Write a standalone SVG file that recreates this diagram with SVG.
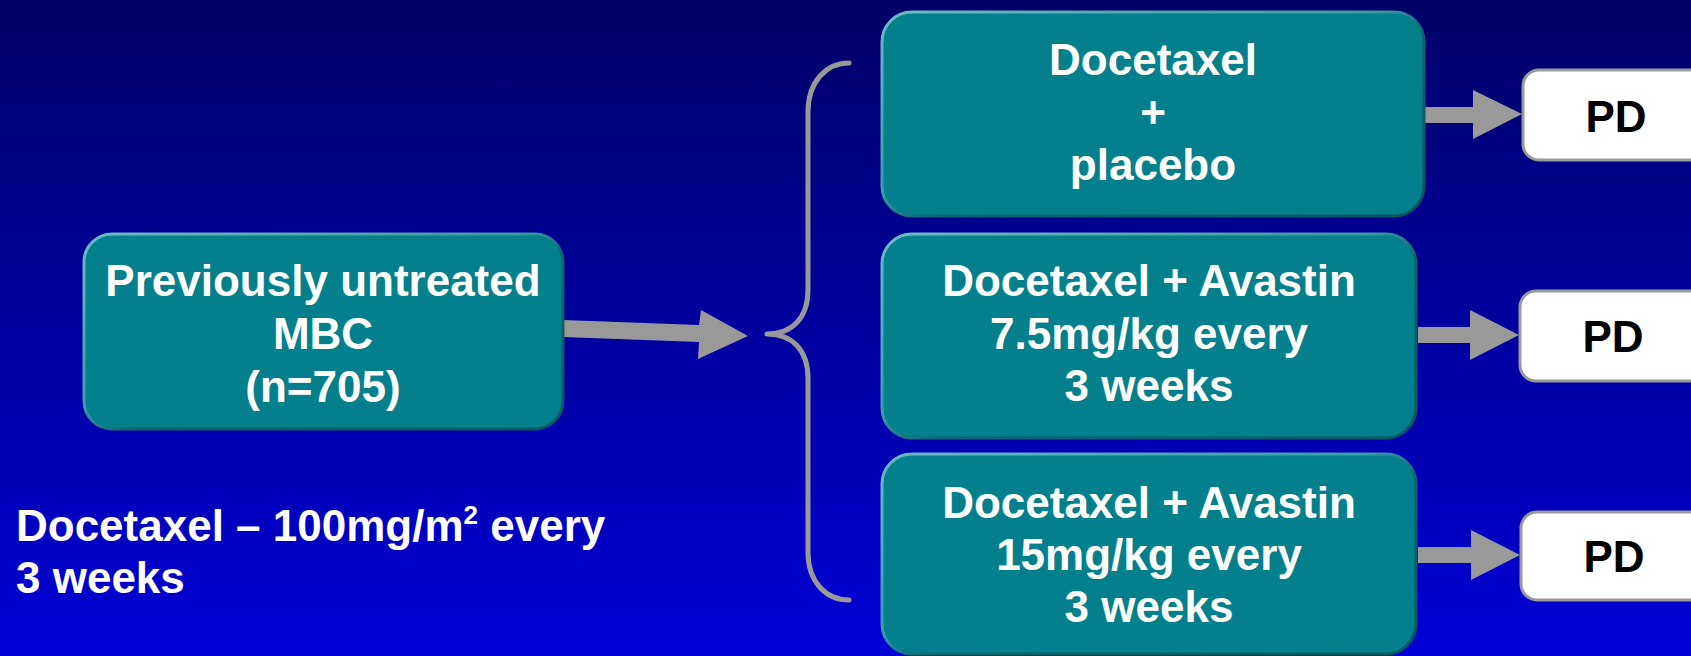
<svg xmlns="http://www.w3.org/2000/svg" width="1691" height="656" viewBox="0 0 1691 656">
<defs>
<linearGradient id="bg" x1="0" y1="0" x2="0" y2="1">
<stop offset="0" stop-color="#000068"/>
<stop offset="1" stop-color="#0000D6"/>
</linearGradient>
<linearGradient id="edge" x1="0" y1="0" x2="1" y2="1">
<stop offset="0" stop-color="#6FB9C6"/>
<stop offset="0.45" stop-color="#3C9AA6"/>
<stop offset="0.55" stop-color="#0A6670"/>
<stop offset="1" stop-color="#04585E"/>
</linearGradient>
<style>
.box{fill:#03808C;stroke:url(#edge);stroke-width:3}
.pd{fill:#FFFFFF;stroke:#9A9A9A;stroke-width:3}
.t{font-family:"Liberation Sans",Arial,sans-serif;font-weight:bold;font-size:44px;fill:#FFFFFF;text-anchor:middle}
.tb{font-family:"Liberation Sans",Arial,sans-serif;font-weight:bold;font-size:44px;fill:#000000;text-anchor:middle}
.tl{font-family:"Liberation Sans",Arial,sans-serif;font-weight:bold;font-size:44px;fill:#FFFFFF}
.arr{fill:#999999}
.brace{fill:none;stroke:#999999;stroke-width:5;stroke-linecap:round;stroke-linejoin:round}
</style>
</defs>
<rect x="0" y="0" width="1691" height="656" fill="url(#bg)"/>

<g id="connectors">
<polygon class="arr" points="563,320 699,325 701,310 748,336 698,359 699,342 563,337"/>
<path class="brace" d="M849,63 C826,63 808,82 808,112 L808,290 C808,318 792,334 767,334 C792,334 808,350 808,378 L808,552 C808,582 826,600 849,600"/>
<polygon class="arr" points="1425,107 1473,107 1473,90 1522,114 1473,139 1473,123 1425,123"/>
<polygon class="arr" points="1418,327 1470,327 1470,310 1519,335 1470,360 1470,343 1418,343"/>
<polygon class="arr" points="1418,547 1471,547 1471,530 1520,555 1471,580 1471,563 1418,563"/>
</g>

<g id="node-start">
<rect class="box" x="84" y="234" width="479" height="195" rx="28"/>
<text class="t" x="323" y="296">Previously untreated</text>
<text class="t" x="323" y="349">MBC</text>
<text class="t" x="323" y="402">(n=705)</text>
</g>

<g id="node-placebo">
<rect class="box" x="882" y="12" width="542" height="204" rx="30"/>
<text class="t" x="1153" y="75">Docetaxel</text>
<text class="t" x="1153" y="128">+</text>
<text class="t" x="1153" y="180">placebo</text>
</g>

<g id="node-avastin75">
<rect class="box" x="882" y="234" width="534" height="204" rx="30"/>
<text class="t" x="1149" y="296">Docetaxel + Avastin</text>
<text class="t" x="1149" y="349">7.5mg/kg every</text>
<text class="t" x="1149" y="401">3 weeks</text>
</g>

<g id="node-avastin15">
<rect class="box" x="882" y="454" width="534" height="200" rx="30"/>
<text class="t" x="1149" y="518">Docetaxel + Avastin</text>
<text class="t" x="1149" y="570">15mg/kg every</text>
<text class="t" x="1149" y="622">3 weeks</text>
</g>

<g id="node-pd1">
<rect class="pd" x="1523" y="70" width="200" height="90" rx="16"/>
<text class="tb" x="1616" y="132">PD</text>
</g>
<g id="node-pd2">
<rect class="pd" x="1520" y="291" width="200" height="90" rx="16"/>
<text class="tb" x="1613" y="352">PD</text>
</g>
<g id="node-pd3">
<rect class="pd" x="1521" y="512" width="200" height="88" rx="16"/>
<text class="tb" x="1614" y="572">PD</text>
</g>

<g id="note">
<text class="tl" x="16" y="541">Docetaxel – 100mg/m<tspan font-size="26" dy="-17">2</tspan><tspan dy="17"> every</tspan></text>
<text class="tl" x="16" y="593">3 weeks</text>
</g>
</svg>
